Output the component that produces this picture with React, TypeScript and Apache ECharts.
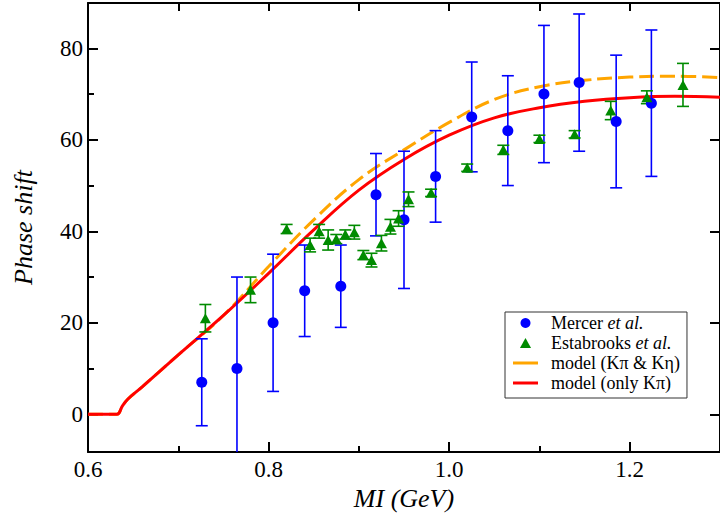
import React, { useEffect, useRef } from "react";
import * as echarts from "echarts";

// ---- data ----
const mercerX = [0.726, 0.765, 0.805, 0.84, 0.88, 0.919, 0.95, 0.985, 1.025, 1.065, 1.105, 1.144, 1.185, 1.224];
const mercerY = [7, 10, 20, 27, 28, 48, 42.5, 52, 65, 62, 70, 72.5, 64, 68];
const mercerErr = [9.5, 20, 15, 10, 9, 9, 15, 10, 12, 12, 15, 15, 14.5, 16];

const estX = [0.73, 0.78, 0.82, 0.846, 0.856, 0.866, 0.875, 0.885, 0.895, 0.905, 0.914, 0.925, 0.935, 0.944, 0.955, 0.98, 1.02, 1.06, 1.1, 1.139, 1.179, 1.219, 1.259];
const estY = [21, 27.2, 40.5, 37, 40, 38.1, 38.3, 39.3, 39.8, 34.8, 33.7, 37.4, 41, 42.8, 47, 48.4, 53.9, 57.8, 60.2, 61.2, 66.4, 69.3, 72];
const estErr = [3, 2.8, 1, 1.5, 1.5, 2.2, 1, 1, 1.5, 1, 1.5, 1.7, 1.6, 1.7, 1.6, 0.8, 0.8, 1, 0.8, 0.8, 2, 1.4, 4.7];

const modelX = [0.6, 0.632, 0.638, 0.644, 0.66, 0.7, 0.75, 0.8, 0.85, 0.9, 0.95, 1.0, 1.05, 1.1, 1.15, 1.2, 1.25, 1.3];
const onlyKpiY = [0, 0, 1.8, 3.3, 6, 13, 21.6, 30.8, 40.3, 49, 55.7, 61, 64.8, 67, 68.4, 69.2, 69.5, 69.3];
const kpiKetaY = [0, 0, 1.8, 3.3, 6, 13, 21.6, 32.3, 42.5, 51.3, 57.8, 63.8, 68.8, 71.6, 73, 73.7, 73.9, 73.6];

const xLabelValues = [0.6, 0.8, 1.0, 1.2];
const xMajorTicks = [0.8, 1.0, 1.2];
const xMinorTicks = [0.7, 0.9, 1.1];
const yLabelValues = [0, 20, 40, 60, 80];
const yMinorTicks = [10, 30, 50, 70];

const NAME_MERCER = "Mercer et al.";
const NAME_EST = "Estabrooks et al.";
const NAME_KK = "model (Kπ & Kη)";
const NAME_K = "model (only Kπ)";

const FONT = "Liberation Serif";
const BLUE = "#0000ff";
const GREEN = "#008b00";
const ORANGE = "#ffa500";
const RED = "#ff0000";

const X_MIN = 0.6;
const X_MAX = 1.3;
const Y_MIN = -8.24;
const Y_MAX = 89.9;

const LINE_ICON = "path://M0,0 L25,0 L25,3 L0,3 Z";
const TRI_ICON = "path://M5,0 L10,9 L0,9 Z";

function errorBarSeries(xs: number[], ys: number[], es: number[], color: string) {
  return {
    type: "custom",
    xAxisIndex: 0,
    yAxisIndex: 0,
    clip: true,
    z: 3,
    silent: true,
    encode: { x: 0, y: [1, 2] },
    data: xs.map((x, i) => [x, ys[i] - es[i], ys[i] + es[i]]),
    renderItem: (params: any, api: any) => {
      const x = api.value(0);
      const lo = api.value(1);
      const hi = api.value(2);
      const top = api.coord([x, hi]);
      const bot = api.coord([x, lo]);
      const hw = 6;
      const style = { stroke: color, lineWidth: 1.6, fill: "none" };
      return {
        type: "group",
        children: [
          { type: "line", shape: { x1: top[0], y1: top[1], x2: bot[0], y2: bot[1] }, style },
          { type: "line", shape: { x1: top[0] - hw, y1: top[1], x2: top[0] + hw, y2: top[1] }, style },
          { type: "line", shape: { x1: bot[0] - hw, y1: bot[1], x2: bot[0] + hw, y2: bot[1] }, style },
        ],
      };
    },
  };
}

function buildOption(): any {
  const axisLineStyle = { color: "#000", width: 2 };
  const tickStyle = { color: "#000", width: 2 };
  const baseX = { type: "value", min: X_MIN, max: X_MAX, splitLine: { show: false } };
  const baseY = { type: "value", min: Y_MIN, max: Y_MAX, splitLine: { show: false } };

  return {
    animation: false,
    textStyle: { fontFamily: FONT },
    grid: { left: 88, right: -10, top: 3, bottom: 67, containLabel: false },
    xAxis: [
      {
        ...baseX,
        position: "bottom",
        axisLine: { show: true, onZero: false, lineStyle: axisLineStyle },
        axisTick: { show: true, inside: true, length: 10, lineStyle: tickStyle, customValues: xMajorTicks },
        axisLabel: {
          show: true,
          customValues: xLabelValues,
          formatter: (v: number) => v.toFixed(1),
          color: "#000",
          fontFamily: FONT,
          fontSize: 23,
          margin: 6,
        },
        name: "MI (GeV)",
        nameLocation: "middle",
        nameGap: 31,
        nameTextStyle: { color: "#000", fontFamily: FONT, fontSize: 26, fontStyle: "italic" },
      },
      {
        ...baseX,
        position: "bottom",
        axisLine: { show: false, onZero: false },
        axisTick: { show: true, inside: true, length: 6, lineStyle: tickStyle, customValues: xMinorTicks },
        axisLabel: { show: false },
      },
      {
        ...baseX,
        position: "top",
        axisLine: { show: true, onZero: false, lineStyle: axisLineStyle },
        axisTick: { show: true, inside: true, length: 8, lineStyle: tickStyle, customValues: [...xMinorTicks, ...xMajorTicks] },
        axisLabel: { show: false },
      },
    ],
    yAxis: [
      {
        ...baseY,
        position: "left",
        axisLine: { show: true, onZero: false, lineStyle: axisLineStyle },
        axisTick: { show: true, inside: true, length: 10, lineStyle: tickStyle, customValues: yLabelValues },
        axisLabel: {
          show: true,
          customValues: yLabelValues,
          color: "#000",
          fontFamily: FONT,
          fontSize: 23,
          margin: 5,
        },
        name: "Phase shift",
        nameLocation: "middle",
        nameGap: 52,
        nameRotate: 90,
        nameTextStyle: { color: "#000", fontFamily: FONT, fontSize: 26, fontStyle: "italic" },
      },
      {
        ...baseY,
        position: "left",
        axisLine: { show: false, onZero: false },
        axisTick: { show: true, inside: true, length: 6, lineStyle: tickStyle, customValues: yMinorTicks },
        axisLabel: { show: false },
      },
      {
        ...baseY,
        position: "right",
        axisLine: { show: true, onZero: false, lineStyle: axisLineStyle },
        axisTick: { show: true, inside: true, length: 10, lineStyle: tickStyle, customValues: yLabelValues },
        axisLabel: { show: false },
      },
    ],
    legend: {
      data: [
        { name: NAME_MERCER, icon: "circle" },
        { name: NAME_EST, icon: TRI_ICON },
        { name: NAME_KK, icon: LINE_ICON },
        { name: NAME_K, icon: LINE_ICON },
      ],
      orient: "vertical",
      left: 505,
      top: 312,
      itemWidth: 25,
      itemHeight: 10,
      itemGap: 0,
      symbolKeepAspect: true,
      padding: [1, 7, 5, 8],
      backgroundColor: "#fff",
      borderColor: "#333",
      borderWidth: 1,
      borderRadius: 0,
      selectedMode: false,
      formatter: (name: string) =>
        name.indexOf(" et al.") >= 0 ? name.replace(" et al.", " {i|et al.}") : name,
      textStyle: {
        color: "#000",
        fontFamily: FONT,
        fontSize: 18,
        lineHeight: 20,
        padding: [0, 0, 0, 8],
        rich: {
          i: { fontStyle: "italic", fontFamily: FONT, fontSize: 18, lineHeight: 20, color: "#000" },
        },
      },
    },
    series: [
      {
        name: NAME_KK,
        type: "line",
        data: modelX.map((x, i) => [x, kpiKetaY[i]]),
        symbol: "none",
        showSymbol: false,
        smooth: 0.4,
        lineStyle: { color: ORANGE, width: 3, type: [15, 6] },
        itemStyle: { color: ORANGE },
        z: 2,
        clip: true,
      },
      {
        name: NAME_K,
        type: "line",
        data: modelX.map((x, i) => [x, onlyKpiY[i]]),
        symbol: "none",
        showSymbol: false,
        smooth: 0.4,
        lineStyle: { color: RED, width: 3 },
        itemStyle: { color: RED },
        z: 2,
        clip: true,
      },
      errorBarSeries(mercerX, mercerY, mercerErr, BLUE),
      errorBarSeries(estX, estY, estErr, GREEN),
      {
        name: NAME_MERCER,
        type: "scatter",
        data: mercerX.map((x, i) => [x, mercerY[i]]),
        symbol: "circle",
        symbolSize: 11,
        itemStyle: { color: BLUE, opacity: 1 },
        z: 4,
      },
      {
        name: NAME_EST,
        type: "scatter",
        data: estX.map((x, i) => [x, estY[i]]),
        symbol: "triangle",
        symbolSize: [11, 10],
        itemStyle: { color: GREEN, opacity: 1 },
        z: 4,
      },
    ],
  };
}

export default function App() {
  const ref = useRef<HTMLDivElement>(null);

  useEffect(() => {
    if (!ref.current) return;
    let disposed = false;
    const chart = echarts.init(ref.current, null, { renderer: "svg" });
    chart.setOption(buildOption());

    const fonts: any = (document as any).fonts;
    if (fonts && fonts.load) {
      Promise.all([
        fonts.load('23px "Liberation Serif"'),
        fonts.load('italic 26px "Liberation Serif"'),
      ])
        .then(() => {
          if (disposed) return;
          chart.clear();
          chart.setOption(buildOption());
        })
        .catch(() => {});
    }
    return () => {
      disposed = true;
      chart.dispose();
    };
  }, []);

  return (
    <div style={{ position: "fixed", left: 0, top: 0, width: 720, height: 519, background: "#fff" }}>
      <div ref={ref} style={{ width: 720, height: 519, fontFamily: "Liberation Serif" }} />
    </div>
  );
}
